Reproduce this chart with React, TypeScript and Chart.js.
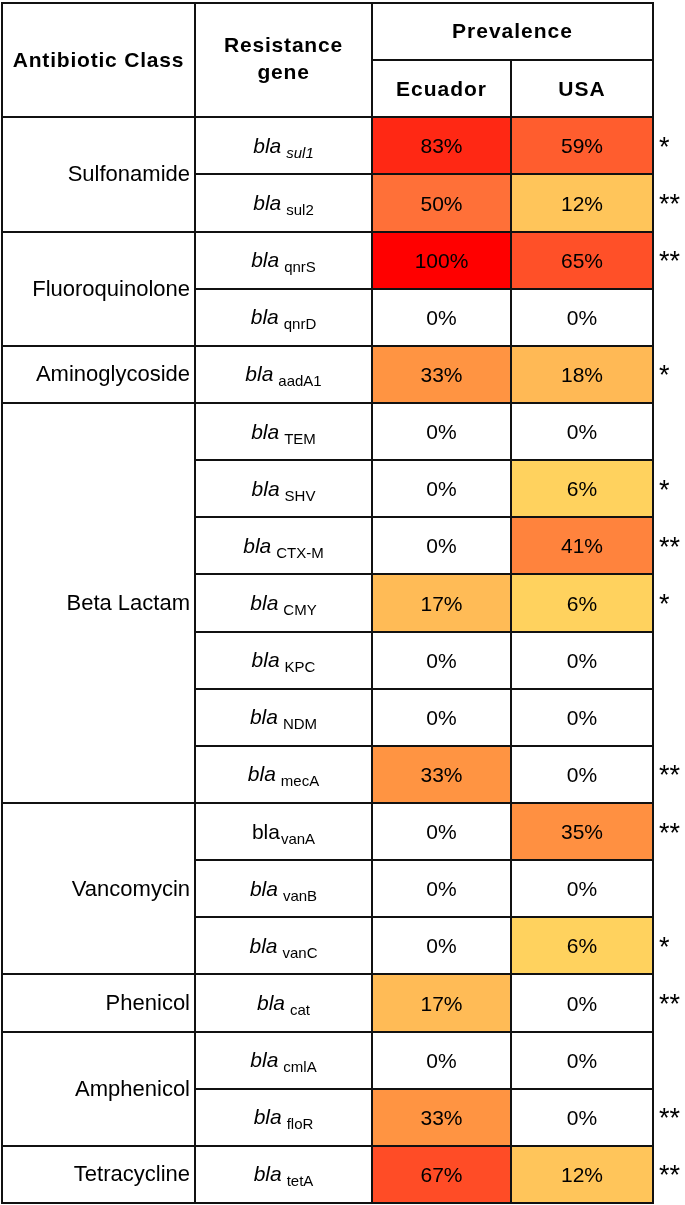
import React, { useEffect, useRef } from "react";
import { Chart, registerables } from "chart.js";

Chart.register(...registerables);

// ---------- data ----------
const classNames = ["Sulfonamide", "Fluoroquinolone", "Aminoglycoside", "Beta Lactam", "Vancomycin", "Phenicol", "Amphenicol", "Tetracycline"];
const classRowCounts = [2, 2, 1, 7, 3, 1, 2, 1];
const genes = ["sul1", "sul2", "qnrS", "qnrD", "aadA1", "TEM", "SHV", "CTX-M", "CMY", "KPC", "NDM", "mecA", "vanA", "vanB", "vanC", "cat", "cmlA", "floR", "tetA"];
const ecuador = [83, 50, 100, 0, 33, 0, 0, 0, 17, 0, 0, 33, 0, 0, 0, 17, 0, 33, 67];
const usa = [59, 12, 65, 0, 18, 0, 6, 41, 6, 0, 0, 0, 35, 0, 6, 0, 0, 0, 12];
const significance = ["*", "**", "**", "", "*", "", "*", "**", "*", "", "", "**", "**", "", "*", "**", "", "**", "**"];
const countries = ["Ecuador", "USA"];
const headerTitle = "Prevalence";
const classHeader = "Antibiotic Class";
const geneHeader = ["Resistance", "gene"];
const genePrefix = "bla";
const uprightGenes = ["vanA"];
const italicSubscriptGenes = ["sul1"];

// ---------- layout / style ----------
const HEADER_ROWS = ["header-1", "header-2"];
const COL_EDGES = [0, 193, 370, 509, 651];
const FONT = '"Liberation Sans", Arial, Helvetica, sans-serif';
const LINE = "#111111";
const COLOR_STOPS: [number, number[]][] = [
  [6, [255, 210, 94]],
  [12, [255, 197, 90]],
  [18, [255, 185, 85]],
  [33, [255, 148, 66]],
  [50, [255, 112, 56]],
  [65, [255, 80, 40]],
  [83, [255, 40, 20]],
  [100, [255, 0, 0]],
];

function heat(v: number | null): string {
  if (v === null || v <= 0) return "#ffffff";
  if (v <= COLOR_STOPS[0][0]) return `rgb(${COLOR_STOPS[0][1].join(",")})`;
  for (let i = 1; i < COLOR_STOPS.length; i++) {
    const [v1, c1] = COLOR_STOPS[i];
    const [v0, c0] = COLOR_STOPS[i - 1];
    if (v <= v1) {
      const t = (v - v0) / (v1 - v0);
      const c = c0.map((a, k) => Math.round(a + (c1[k] - a) * t));
      return `rgb(${c.join(",")})`;
    }
  }
  return "rgb(255,0,0)";
}

const tablePlugin = {
  id: "tableDecor",
  afterDatasetsDraw(chart: any) {
    const { ctx, scales } = chart;
    const x = scales.x;
    const y = scales.y;
    const step = y.getPixelForValue(1) - y.getPixelForValue(0);
    const rowTop = (i: number) => y.getPixelForValue(i) - step / 2;
    const rowBot = (i: number) => y.getPixelForValue(i) + step / 2;
    const rowMid = (i: number) => y.getPixelForValue(i);
    const xp = (u: number) => x.getPixelForValue(u);
    const colMid = (c: number) => (xp(COL_EDGES[c]) + xp(COL_EDGES[c + 1])) / 2;
    const H = HEADER_ROWS.length;

    ctx.save();
    ctx.fillStyle = "#000";
    ctx.textAlign = "center";
    ctx.textBaseline = "alphabetic";

    // headers
    ctx.font = `bold 21px ${FONT}`;
    (ctx as any).letterSpacing = "0.8px";
    const headMid = (rowTop(0) + rowBot(1)) / 2;
    ctx.fillText(classHeader, colMid(0), headMid + 7);
    ctx.fillText(geneHeader[0], colMid(1), headMid - 8);
    ctx.fillText(geneHeader[1], colMid(1), headMid + 19);
    (ctx as any).letterSpacing = "1px";
    ctx.fillText(headerTitle, (xp(COL_EDGES[2]) + xp(COL_EDGES[4])) / 2, rowMid(0) + 6);
    countries.forEach((c, k) => ctx.fillText(c, colMid(2 + k), rowMid(1) + 7.5));
    (ctx as any).letterSpacing = "0px";

    // class labels
    ctx.font = `22px ${FONT}`;
    ctx.textAlign = "right";
    let r = H;
    classNames.forEach((name, k) => {
      const n = classRowCounts[k];
      const mid = (rowTop(r) + rowBot(r + n - 1)) / 2;
      ctx.fillText(name, xp(COL_EDGES[1]) - 5, mid + 7);
      r += n;
    });

    // gene labels
    genes.forEach((g, i) => {
      const row = i + H;
      const upright = uprightGenes.includes(g);
      const fMain = `${upright ? "" : "italic "}21px ${FONT}`;
      const fSub = `${italicSubscriptGenes.includes(g) ? "italic " : ""}15px ${FONT}`;
      ctx.font = fMain;
      const wb = ctx.measureText(genePrefix).width;
      ctx.font = fSub;
      const ws = ctx.measureText(g).width;
      const gap = upright ? 1 : 5;
      const total = wb + gap + ws;
      const start = colMid(1) - total / 2;
      ctx.textAlign = "left";
      ctx.font = fMain;
      ctx.fillText(genePrefix, start, rowMid(row) + 7);
      ctx.font = fSub;
      ctx.fillText(g, start + wb + gap, rowMid(row) + 12);
    });

    // values
    ctx.font = `21px ${FONT}`;
    ctx.textAlign = "center";
    [ecuador, usa].forEach((vals, k) => {
      vals.forEach((v, i) => {
        ctx.fillText(`${v}%`, colMid(2 + k), rowMid(i + H) + 7.5);
      });
    });

    // significance
    ctx.font = `27px ${FONT}`;
    ctx.textAlign = "left";
    significance.forEach((s, i) => {
      if (s) ctx.fillText(s, xp(COL_EDGES[4]) + 6, rowMid(i + H) + 10);
    });

    // grid lines
    ctx.strokeStyle = LINE;
    ctx.lineWidth = 2;
    const hline = (yy: number, x0: number, x1: number) => {
      const yr = Math.round(yy);
      ctx.beginPath();
      ctx.moveTo(x0 - 1, yr);
      ctx.lineTo(x1 + 1, yr);
      ctx.stroke();
    };
    const vline = (xx: number, y0: number, y1: number) => {
      const xr = Math.round(xx);
      ctx.beginPath();
      ctx.moveTo(xr, Math.round(y0) - 1);
      ctx.lineTo(xr, Math.round(y1) + 1);
      ctx.stroke();
    };
    const L = xp(COL_EDGES[0]);
    const R = xp(COL_EDGES[4]);
    const top = rowTop(0);
    const last = H + genes.length - 1;
    const bottom = rowBot(last);
    hline(top, L, R);
    hline(rowBot(0), xp(COL_EDGES[2]), R);
    hline(rowBot(1), L, R);
    const groupEnds = new Set<number>();
    let acc = H;
    classRowCounts.forEach((n) => {
      acc += n;
      groupEnds.add(acc - 1);
    });
    for (let i = H; i <= last; i++) {
      hline(rowBot(i), groupEnds.has(i) ? L : xp(COL_EDGES[1]), R);
    }
    vline(L, top, bottom);
    vline(xp(COL_EDGES[1]), top, bottom);
    vline(xp(COL_EDGES[2]), top, bottom);
    vline(xp(COL_EDGES[3]), rowBot(0), bottom);
    vline(R, top, bottom);
    ctx.restore();
  },
};

export default function App() {
  const ref = useRef<HTMLCanvasElement | null>(null);
  useEffect(() => {
    document.body.style.margin = "0";
    document.body.style.overflow = "hidden";
    const labels = [...HEADER_ROWS, ...genes];
    const pad = HEADER_ROWS.map(() => null);
    const mkData = (c: number) => [...pad, ...genes.map(() => [COL_EDGES[c], COL_EDGES[c + 1]])];
    const chart = new Chart(ref.current as HTMLCanvasElement, {
      type: "bar",
      data: {
        labels,
        datasets: [ecuador, usa].map((vals, k) => ({
          label: countries[k],
          data: mkData(2 + k) as any,
          backgroundColor: [...pad.map(() => "#ffffff"), ...vals.map((v) => heat(v))],
          borderWidth: 0,
          barPercentage: 1,
          categoryPercentage: 1,
          grouped: false,
        })),
      },
      options: {
        indexAxis: "y",
        animation: false,
        responsive: true,
        maintainAspectRatio: false,
        layout: { padding: { left: 2, top: 3, right: 32, bottom: 2 } },
        plugins: { legend: { display: false }, tooltip: { enabled: false } },
        scales: {
          x: { type: "linear", min: COL_EDGES[0], max: COL_EDGES[COL_EDGES.length - 1], display: false },
          y: { type: "category", display: false },
        },
      },
      plugins: [tablePlugin],
    });
    return () => chart.destroy();
  }, []);
  return (
    <div style={{ width: 685, height: 1205, position: "relative", background: "#fff" }}>
      <canvas ref={ref} style={{ display: "block" }} />
    </div>
  );
}
